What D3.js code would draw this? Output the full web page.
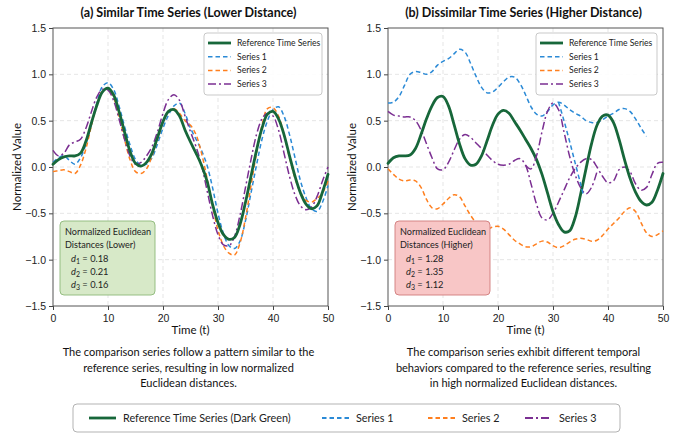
<!DOCTYPE html>
<html>
<head>
<meta charset="utf-8">
<script src="https://cdn.jsdelivr.net/npm/d3@7"></script>
<style>
  body { margin: 0; background: #fff; }
  svg { font-family: Lato, "Noto Sans", sans-serif; }
</style>
</head>
<body>
<div id="chart"></div>
<script>
// Time steps shared by every series
const timeSteps = d3.range(0, 51);

// Panel (a): similar series
const refSimilar = [0.03, 0.08, 0.11, 0.12, 0.12, 0.15, 0.28, 0.48, 0.67, 0.81, 0.85, 0.78, 0.60, 0.38, 0.17, 0.04, 0.01, 0.05, 0.15, 0.32, 0.49, 0.60, 0.62, 0.55, 0.40, 0.27, 0.15, 0.02, -0.15, -0.40, -0.60, -0.73, -0.78, -0.76, -0.62, -0.38, -0.10, 0.18, 0.42, 0.57, 0.60, 0.52, 0.35, 0.12, -0.10, -0.28, -0.40, -0.45, -0.42, -0.27, -0.08];
const s1Similar = [0.05, 0.10, 0.12, 0.07, 0.03, 0.10, 0.25, 0.47, 0.70, 0.87, 0.91, 0.84, 0.66, 0.44, 0.24, 0.08, 0.02, 0.03, 0.10, 0.25, 0.42, 0.56, 0.66, 0.69, 0.58, 0.42, 0.30, 0.18, 0.02, -0.22, -0.50, -0.72, -0.85, -0.88, -0.80, -0.58, -0.28, 0.02, 0.30, 0.50, 0.62, 0.65, 0.55, 0.35, 0.10, -0.15, -0.33, -0.45, -0.48, -0.38, -0.20];
const s2Similar = [-0.05, -0.04, -0.03, -0.05, -0.07, 0.02, 0.20, 0.45, 0.68, 0.82, 0.84, 0.75, 0.55, 0.30, 0.08, -0.05, -0.07, -0.02, 0.12, 0.30, 0.48, 0.60, 0.63, 0.58, 0.50, 0.45, 0.35, 0.15, -0.12, -0.42, -0.68, -0.85, -0.93, -0.95, -0.82, -0.55, -0.20, 0.15, 0.45, 0.63, 0.64, 0.55, 0.35, 0.10, -0.12, -0.28, -0.36, -0.38, -0.34, -0.28, -0.15];
const s3Similar = [0.18, 0.12, 0.15, 0.24, 0.27, 0.30, 0.42, 0.60, 0.76, 0.84, 0.83, 0.72, 0.52, 0.30, 0.12, 0.03, 0.05, 0.12, 0.22, 0.38, 0.58, 0.73, 0.78, 0.72, 0.55, 0.38, 0.22, 0.02, -0.25, -0.52, -0.73, -0.84, -0.85, -0.75, -0.52, -0.22, 0.08, 0.35, 0.52, 0.58, 0.55, 0.40, 0.15, -0.10, -0.30, -0.42, -0.46, -0.43, -0.32, -0.15, 0.00];

// Panel (b): dissimilar series
const refDissimilar = [0.04, 0.10, 0.12, 0.12, 0.13, 0.20, 0.35, 0.52, 0.66, 0.75, 0.76, 0.66, 0.46, 0.25, 0.09, 0.02, 0.03, 0.12, 0.28, 0.45, 0.57, 0.61, 0.58, 0.49, 0.40, 0.30, 0.20, 0.08, -0.08, -0.28, -0.48, -0.62, -0.70, -0.69, -0.55, -0.30, -0.02, 0.25, 0.45, 0.55, 0.56, 0.48, 0.30, 0.08, -0.12, -0.27, -0.37, -0.41, -0.38, -0.25, -0.07];
const s1Dissimilar = [0.69, 0.70, 0.76, 0.88, 1.00, 1.03, 1.02, 1.00, 1.03, 1.10, 1.14, 1.17, 1.22, 1.27, 1.24, 1.12, 0.98, 0.86, 0.80, 0.81, 0.86, 0.92, 0.97, 0.97, 0.90, 0.78, 0.65, 0.57, 0.55, 0.60, 0.67, 0.70, 0.67, 0.62, 0.58, 0.55, 0.50, 0.48, 0.48, 0.51, 0.55, 0.58, 0.62, 0.63, 0.60, 0.52, 0.42, 0.33, null, null, null];
const s2Dissimilar = [-0.02, -0.08, -0.13, -0.15, -0.14, -0.15, -0.22, -0.35, -0.44, -0.45, -0.40, -0.34, -0.30, -0.32, -0.42, -0.52, -0.60, -0.66, -0.67, -0.65, -0.64, -0.67, -0.73, -0.79, -0.83, -0.86, -0.86, -0.83, -0.80, -0.81, -0.85, -0.87, -0.85, -0.81, -0.78, -0.77, -0.78, -0.80, -0.79, -0.74, -0.67, -0.61, -0.55, -0.48, -0.44, -0.48, -0.60, -0.71, -0.75, -0.73, -0.69];
const s3Dissimilar = [0.60, 0.56, 0.55, 0.54, 0.54, 0.50, 0.40, 0.25, 0.10, -0.02, -0.03, 0.05, 0.18, 0.30, 0.35, 0.32, 0.26, 0.20, 0.13, 0.07, 0.03, 0.02, 0.03, 0.07, 0.09, 0.02, -0.18, -0.40, -0.55, -0.57, -0.50, -0.38, -0.25, -0.12, -0.02, 0.05, 0.09, 0.08, 0.00, -0.10, -0.17, -0.15, -0.03, 0.00, -0.05, -0.18, -0.25, -0.22, -0.08, 0.04, 0.05];
// extra branches visible in panel (b) around t = 25..38
const s3SpurTime = [25, 26, 27, 28, 29, 30, 31, 32, 33, 34, 35, 36, 37, 38];
const s3Spur = [0.02, -0.02, 0.12, 0.38, 0.60, 0.69, 0.62, 0.38, 0.12, -0.08, -0.22, -0.29, -0.22, -0.05];
const s1SpurTime = [31, 32, 33, 34, 35, 35.5];
const s1Spur = [0.70, 0.50, 0.28, 0.05, -0.18, -0.30];

const distSimilar = ['0.18', '0.21', '0.16'];
const distDissimilar = ['1.28', '1.35', '1.12'];

const xTicks = [0, 10, 20, 30, 40, 50];
const yTicks = [-1.5, -1.0, -0.5, 0.0, 0.5, 1.0, 1.5];

const seriesNames = ['Reference Time Series', 'Series 1', 'Series 2', 'Series 3'];
const bottomNames = ['Reference Time Series (Dark Green)', 'Series 1', 'Series 2', 'Series 3'];

const captionSimilar = ['The comparison series follow a pattern similar to the', 'reference series, resulting in low normalized', 'Euclidean distances.'];
const captionDissimilar = ['The comparison series exhibit different temporal', 'behaviors compared to the reference series, resulting', 'in high normalized Euclidean distances.'];

// Styles for each series
const styles = [
    { color: '#17673a', width: 2.8, dash: null },
    { color: '#2b8ad6', width: 1.5, dash: '4.5,3' },
    { color: '#ff7f1e', width: 1.5, dash: '4.5,3' },
    { color: '#7b2f92', width: 1.5, dash: '8,3,2,3' }
];

const svg = d3.select('#chart').append('svg')
    .attr('width', 683)
    .attr('height', 433);

function drawPanel(opts) {
    const left = opts.left, top = 28, w = 275, h = 278;
    const x = d3.scaleLinear().domain([0, 50]).range([left, left + w]);
    const y = d3.scaleLinear().domain([-1.5, 1.5]).range([top + h, top]);
    const g = svg.append('g');

    // Grid
    g.selectAll('.gx').data(xTicks.slice(1, -1)).enter().append('line')
        .attr('x1', d => x(d)).attr('x2', d => x(d))
        .attr('y1', top).attr('y2', top + h)
        .attr('stroke', '#dedede').attr('stroke-dasharray', '4,3').attr('stroke-width', 0.8);
    g.selectAll('.gy').data(yTicks.slice(1, -1)).enter().append('line')
        .attr('x1', left).attr('x2', left + w)
        .attr('y1', d => y(d)).attr('y2', d => y(d))
        .attr('stroke', '#dedede').attr('stroke-dasharray', '4,3').attr('stroke-width', 0.8);

    // Axes
    const ax = g.append('g').attr('transform', `translate(0,${top + h})`)
        .call(d3.axisBottom(x).tickValues(xTicks).tickSize(4).tickSizeOuter(0));
    const ay = g.append('g').attr('transform', `translate(${left},0)`)
        .call(d3.axisLeft(y).tickValues(yTicks).tickSize(4).tickSizeOuter(0)
            .tickFormat(d => d3.format('.1f')(d).replace('-', '\u2212')));
    [ax, ay].forEach(a => {
        a.select('.domain').remove();
        a.selectAll('line').attr('stroke', '#444');
        a.selectAll('text').attr('fill', '#222').style('font-size', '10.5px');
    });
    ax.selectAll('text').attr('dy', '0.85em');

    // Frame
    g.append('rect').attr('x', left).attr('y', top).attr('width', w).attr('height', h)
        .attr('fill', 'none').attr('stroke', '#555').attr('stroke-width', 1);

    // Lines
    const line = d3.line()
        .defined(d => d[1] !== null)
        .x(d => x(d[0])).y(d => y(d[1]))
        .curve(d3.curveCatmullRom.alpha(0.5));
    const drawOrder = [1, 2, 3, 0];
    drawOrder.forEach(i => {
        const st = styles[i];
        g.append('path')
            .datum(timeSteps.map((t, k) => [t, opts.series[i][k]]))
            .attr('d', line)
            .attr('fill', 'none')
            .attr('stroke', st.color)
            .attr('stroke-width', st.width)
            .attr('stroke-dasharray', st.dash)
            .attr('stroke-linecap', i === 0 ? 'round' : 'butt');
    });
    (opts.spurs || []).forEach(sp => {
        const st = styles[sp.style];
        g.append('path')
            .datum(sp.t.map((t, k) => [t, sp.v[k]]))
            .attr('d', line)
            .attr('fill', 'none')
            .attr('stroke', st.color)
            .attr('stroke-width', st.width)
            .attr('stroke-dasharray', st.dash);
    });

    // Title
    svg.append('text').attr('x', left + w / 2 - 2).attr('y', 17)
        .attr('text-anchor', 'middle').style('font-size', '12.5px').style('font-weight', 'bold')
        .attr('fill', '#111').text(opts.title);

    // Axis labels
    svg.append('text').attr('x', left + w / 2).attr('y', 334)
        .attr('text-anchor', 'middle').style('font-size', '11.5px').attr('fill', '#111').text('Time (t)');
    svg.append('text')
        .attr('transform', `translate(${left - 32},${top + h / 2}) rotate(-90)`)
        .attr('text-anchor', 'middle').style('font-size', '11.5px').attr('fill', '#111').text('Normalized Value');

    // Legend inside plot
    const lg = svg.append('g').attr('transform', `translate(${opts.legendX},33)`);
    lg.append('rect').attr('width', opts.legendW).attr('height', 62).attr('rx', 3)
        .attr('fill', '#fff').attr('fill-opacity', 0.9).attr('stroke', '#bbb').attr('stroke-width', 0.8);
    seriesNames.forEach((name, i) => {
        const st = styles[i];
        const yy = 10 + i * 13.7;
        lg.append('line').attr('x1', 4).attr('x2', 27).attr('y1', yy).attr('y2', yy)
            .attr('stroke', st.color).attr('stroke-width', i === 0 ? 2.8 : 1.5)
            .attr('stroke-dasharray', st.dash);
        lg.append('text').attr('x', 33).attr('y', yy).attr('dy', '0.35em')
            .style('font-size', '8.6px').attr('fill', '#222').text(name);
    });

    // Distance box
    const db = svg.append('g').attr('transform', `translate(${opts.boxX},221)`);
    db.append('rect').attr('width', opts.boxW).attr('height', 74).attr('rx', 4)
        .attr('fill', opts.boxFill).attr('stroke', opts.boxStroke).attr('stroke-width', 0.9);
    db.append('text').attr('x', 5).attr('y', 14).style('font-size', '9.1px').attr('fill', '#222')
        .text('Normalized Euclidean');
    db.append('text').attr('x', 5).attr('y', 27).style('font-size', '9.1px').attr('fill', '#222')
        .text(opts.boxLabel);
    opts.dists.forEach((d, i) => {
        const t = db.append('text').attr('x', 11).attr('y', 40.5 + i * 13)
            .style('font-size', '9.3px').attr('fill', '#222');
        t.append('tspan').style('font-style', 'italic').text('d');
        t.append('tspan').attr('dy', 2).style('font-size', '7px').text(i + 1);
        t.append('tspan').attr('dy', -2).text(' = ' + d);
    });

    // Caption
    opts.caption.forEach((c, i) => {
        svg.append('text').attr('x', left + w / 2 - 2).attr('y', 356 + i * 15.5)
            .attr('text-anchor', 'middle').style('font-size', '11px').attr('fill', '#111').text(c);
    });
}

drawPanel({
    left: 53, title: '(a) Similar Time Series (Lower Distance)',
    series: [refSimilar, s1Similar, s2Similar, s3Similar],
    legendX: 204, legendW: 118,
    boxX: 60, boxW: 95, boxFill: '#d7e9c8', boxStroke: '#8cb878', boxLabel: 'Distances (Lower)',
    dists: distSimilar, caption: captionSimilar
});

drawPanel({
    left: 388, title: '(b) Dissimilar Time Series (Higher Distance)',
    series: [refDissimilar, s1Dissimilar, s2Dissimilar, s3Dissimilar],
    spurs: [{ t: s3SpurTime, v: s3Spur, style: 3 }, { t: s1SpurTime, v: s1Spur, style: 1 }],
    legendX: 536, legendW: 121,
    boxX: 395, boxW: 95, boxFill: '#f8c6c6', boxStroke: '#d07a7a', boxLabel: 'Distances (Higher)',
    dists: distDissimilar, caption: captionDissimilar
});

// Bottom legend
const bl = svg.append('g').attr('transform', 'translate(73,404)');
bl.append('rect').attr('width', 547).attr('height', 28).attr('rx', 4)
    .attr('fill', '#fff').attr('stroke', '#aaa').attr('stroke-width', 0.9);
const bottomX = [16, 249, 355, 452];
bottomNames.forEach((name, i) => {
    const st = styles[i];
    bl.append('line').attr('x1', bottomX[i]).attr('x2', bottomX[i] + 27).attr('y1', 14).attr('y2', 14)
        .attr('stroke', st.color).attr('stroke-width', i === 0 ? 2.8 : 1.8)
        .attr('stroke-dasharray', st.dash);
    bl.append('text').attr('x', bottomX[i] + 34).attr('y', 14).attr('dy', '0.35em')
        .style('font-size', '10.8px').attr('fill', '#222').text(name);
});
</script>
</body>
</html>
